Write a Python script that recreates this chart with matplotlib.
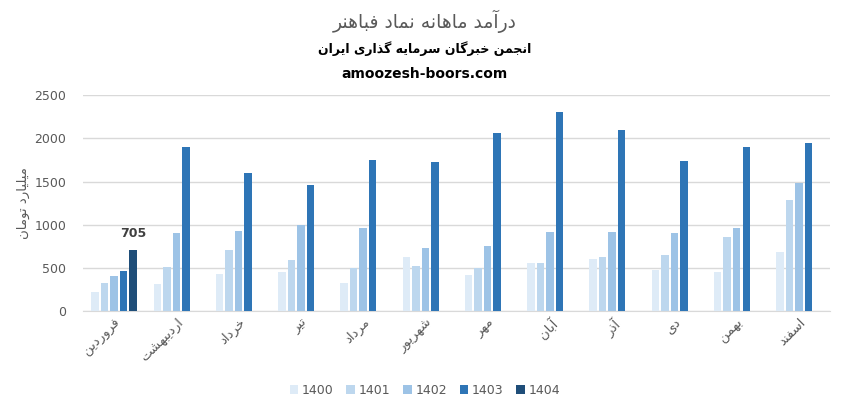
import numpy as np
import matplotlib
matplotlib.use("Agg")
import matplotlib.pyplot as plt

# --- data -----------------------------------------------------------------
months = ["فروردین", "اردیبهشت", "خرداد", "تیر", "مرداد", "شهریور",
          "مهر", "آبان", "آذر", "دی", "بهمن", "اسفند"]
years = ["1400", "1401", "1402", "1403", "1404"]
v1400 = [220, 310, 430, 450, 320, 625, 415, 555, 600, 475, 450, 685]
v1401 = [325, 510, 705, 590, 495, 520, 500, 555, 625, 650, 855, 1285]
v1402 = [405, 900, 925, 995, 960, 730, 755, 915, 915, 905, 960, 1485]
v1403 = [460, 1895, 1595, 1465, 1745, 1725, 2060, 2305, 2095, 1735, 1900, 1945]
v1404 = [705, None, None, None, None, None, None, None, None, None, None, None]
colors = ["#DEEBF7", "#BDD7EE", "#9DC3E6", "#2E75B6", "#1F4E79"]

title = "درآمد ماهانه نماد فباهنر"
subtitle = "انجمن خبرگان سرمایه گذاری ایران"
site = "amoozesh-boors.com"
ylabel = "میلیارد تومان"

# --- minimal arabic/persian shaping (no bidi lib available) ---------------
# (isolated, final, initial, medial); None for initial => right-joining only
FORMS = {
    'آ': ('\uFE81', '\uFE82', None, None),
    'ا': ('\uFE8D', '\uFE8E', None, None),
    'ب': ('\uFE8F', '\uFE90', '\uFE91', '\uFE92'),
    'ت': ('\uFE95', '\uFE96', '\uFE97', '\uFE98'),
    'ج': ('\uFE9D', '\uFE9E', '\uFE9F', '\uFEA0'),
    'خ': ('\uFEA5', '\uFEA6', '\uFEA7', '\uFEA8'),
    'د': ('\uFEA9', '\uFEAA', None, None),
    'ذ': ('\uFEAB', '\uFEAC', None, None),
    'ر': ('\uFEAD', '\uFEAE', None, None),
    'س': ('\uFEB1', '\uFEB2', '\uFEB3', '\uFEB4'),
    'ش': ('\uFEB5', '\uFEB6', '\uFEB7', '\uFEB8'),
    'ف': ('\uFED1', '\uFED2', '\uFED3', '\uFED4'),
    'ل': ('\uFEDD', '\uFEDE', '\uFEDF', '\uFEE0'),
    'م': ('\uFEE1', '\uFEE2', '\uFEE3', '\uFEE4'),
    'ن': ('\uFEE5', '\uFEE6', '\uFEE7', '\uFEE8'),
    'ه': ('\uFEE9', '\uFEEA', '\uFEEB', '\uFEEC'),
    'و': ('\uFEED', '\uFEEE', None, None),
    'ی': ('\uFBFC', '\uFBFD', '\uFBFE', '\uFBFF'),
    'گ': ('\uFB92', '\uFB93', '\uFB94', '\uFB95'),
}


def fa(s):
    out = []
    for i, c in enumerate(s):
        if c not in FORMS:
            out.append(c)
            continue
        prev = s[i - 1] if i > 0 else ''
        nxt = s[i + 1] if i < len(s) - 1 else ''
        join_prev = prev in FORMS and FORMS[prev][2] is not None
        join_next = FORMS[c][2] is not None and nxt in FORMS
        iso, fin, ini, med = FORMS[c]
        if join_prev and join_next:
            out.append(med)
        elif join_prev:
            out.append(fin)
        elif join_next:
            out.append(ini)
        else:
            out.append(iso)
    return ''.join(out)[::-1]


# --- plot -------------------------------------------------------------------
plt.rcParams['font.family'] = ['DejaVu Sans']
grey = "#595959"

fig = plt.figure(figsize=(8.5, 4.05), dpi=100)
ax = fig.add_axes([0.0976, 0.232, 0.879, 0.533])

x = np.arange(len(months))
series = [v1400, v1401, v1402, v1403, v1404]
step, width = 0.153, 0.12
for j, (yr, vals, col) in enumerate(zip(years, series, colors)):
    vals = np.array([np.nan if v is None else v for v in vals], dtype=float)
    ax.bar(x + (j - 2) * step, vals, width=width, color=col, label=yr, zorder=3)

# data label for the single 1404 bar
ax.annotate(str(v1404[0]), (x[0] + 2 * step, v1404[0]), xytext=(0, 7),
            textcoords="offset points", ha="center", va="bottom",
            fontsize=9, fontweight="bold", color="#404040")

ax.set_xlim(-0.5, len(months) - 0.5)
ax.set_ylim(0, 2500)
ax.set_yticks(np.arange(0, 2501, 500))
ax.grid(axis="y", color="#D9D9D9", lw=1, zorder=0)
for side in ["top", "right", "left"]:
    ax.spines[side].set_visible(False)
ax.spines["bottom"].set_color("#D9D9D9")
ax.tick_params(axis="both", length=0, colors=grey, labelsize=9)
ax.tick_params(axis="y", pad=12)
ax.set_xticks(x)
ax.set_xticklabels([fa(m) for m in months], rotation=45, ha="right",
                   va="top", rotation_mode="anchor", fontsize=9.5, color=grey)
ax.set_ylabel(fa(ylabel), color=grey, fontsize=9.5, labelpad=3)

fig.text(0.5, 0.948, fa(title), ha="center", va="center", fontsize=13.5, color=grey)
fig.text(0.5, 0.88, fa(subtitle), ha="center", va="center", fontsize=9,
         fontweight="bold", color="black")
fig.text(0.5, 0.817, site, ha="center", va="center", fontsize=10,
         fontweight="bold", color="black")

fig.legend(loc="center", bbox_to_anchor=(0.5, 0.037), ncol=5, frameon=False,
           fontsize=9, handlelength=0.7, handleheight=0.7, handletextpad=0.3,
           columnspacing=1.0, labelcolor=grey)

fig.savefig("out.png", dpi=100)
